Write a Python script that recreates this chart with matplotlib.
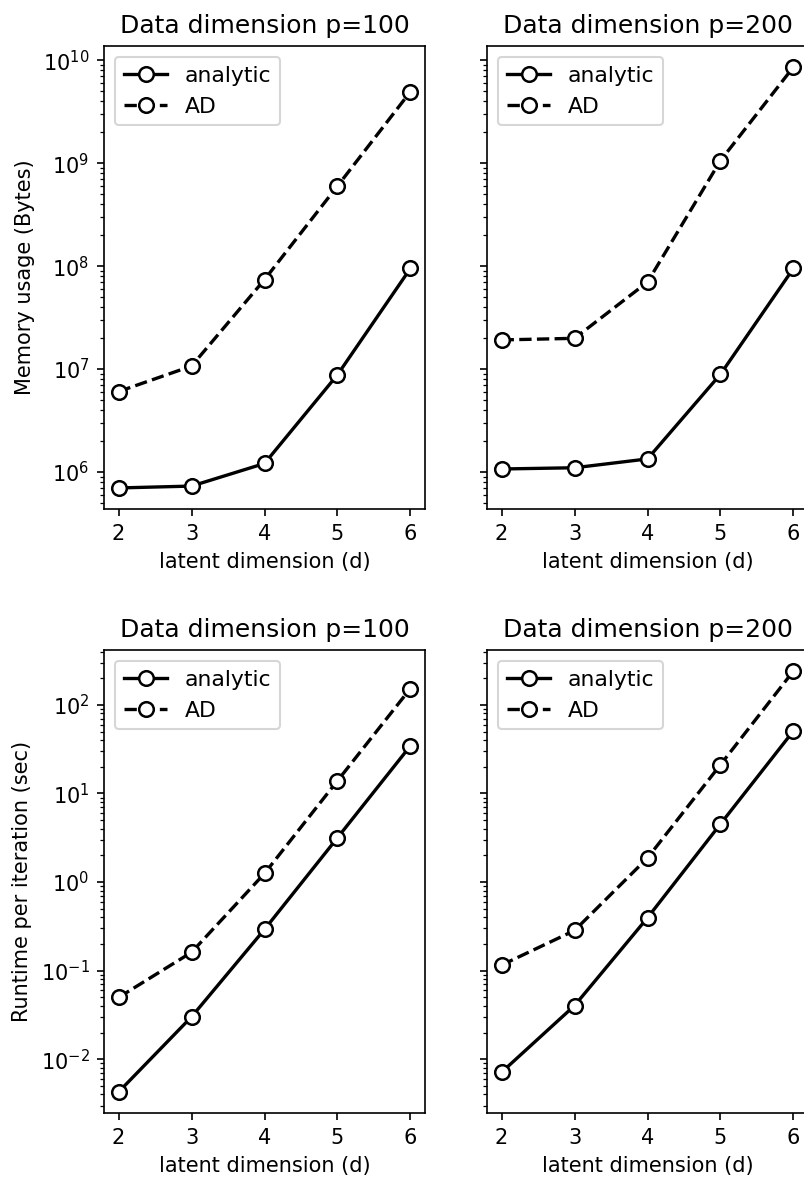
import numpy as np
import matplotlib
matplotlib.use('Agg')
import matplotlib.pyplot as plt

# latent dimension d
d = [2, 3, 4, 5, 6]

# memory usage (Bytes)
mem_analytic_p100 = [7.0e5, 7.3e5, 1.21e6, 8.8e6, 9.5e7]
mem_ad_p100 = [6.05e6, 1.07e7, 7.4e7, 6.0e8, 4.95e9]
mem_analytic_p200 = [1.07e6, 1.10e6, 1.34e6, 8.9e6, 9.5e7]
mem_ad_p200 = [1.92e7, 1.99e7, 7.0e7, 1.06e9, 8.6e9]

# runtime per iteration (sec)
time_analytic_p100 = [4.27e-3, 0.0301, 0.292, 3.16, 34.5]
time_ad_p100 = [0.0498, 0.161, 1.25, 13.9, 153]
time_analytic_p200 = [7.13e-3, 0.0403, 0.395, 4.52, 50.8]
time_ad_p200 = [0.1156, 0.284, 1.87, 21.1, 241]

titles = ['Data dimension p=100', 'Data dimension p=200']

W, H, DPI = 804, 1178, 150
fig = plt.figure(figsize=(W / DPI, H / DPI), dpi=DPI)


def rect(x, y, w, h):
    # pixel box (left, top, width, height) -> figure fraction
    return [x / W, 1 - (y + h) / H, w / W, h / H]


ax00 = fig.add_axes(rect(104, 46, 321, 463))
ax01 = fig.add_axes(rect(487, 46, 321, 463), sharey=ax00)
ax10 = fig.add_axes(rect(104, 650, 321, 463))
ax11 = fig.add_axes(rect(487, 650, 321, 463), sharey=ax10)

panels = [
    (ax00, mem_analytic_p100, mem_ad_p100, titles[0]),
    (ax01, mem_analytic_p200, mem_ad_p200, titles[1]),
    (ax10, time_analytic_p100, time_ad_p100, titles[0]),
    (ax11, time_analytic_p200, time_ad_p200, titles[1]),
]

for ax, ya, yb, t in panels:
    ax.plot(d, ya, 'k-o', lw=1.6, markerfacecolor='white', markersize=7,
            markeredgewidth=1.2, label='analytic')
    ax.plot(d, yb, 'k--o', lw=1.6, markerfacecolor='white', markersize=7,
            markeredgewidth=1.2, label='AD')
    ax.set_yscale('log')
    ax.set_xticks(d)
    ax.set_title(t)
    ax.set_xlabel('latent dimension (d)')
    ax.legend(loc='upper left', fontsize=10.5)

ax01.tick_params(labelleft=False)
ax11.tick_params(labelleft=False)
ax00.set_ylabel('Memory usage (Bytes)')
ax10.set_ylabel('Runtime per iteration (sec)')

fig.savefig('out.png', dpi=DPI)
